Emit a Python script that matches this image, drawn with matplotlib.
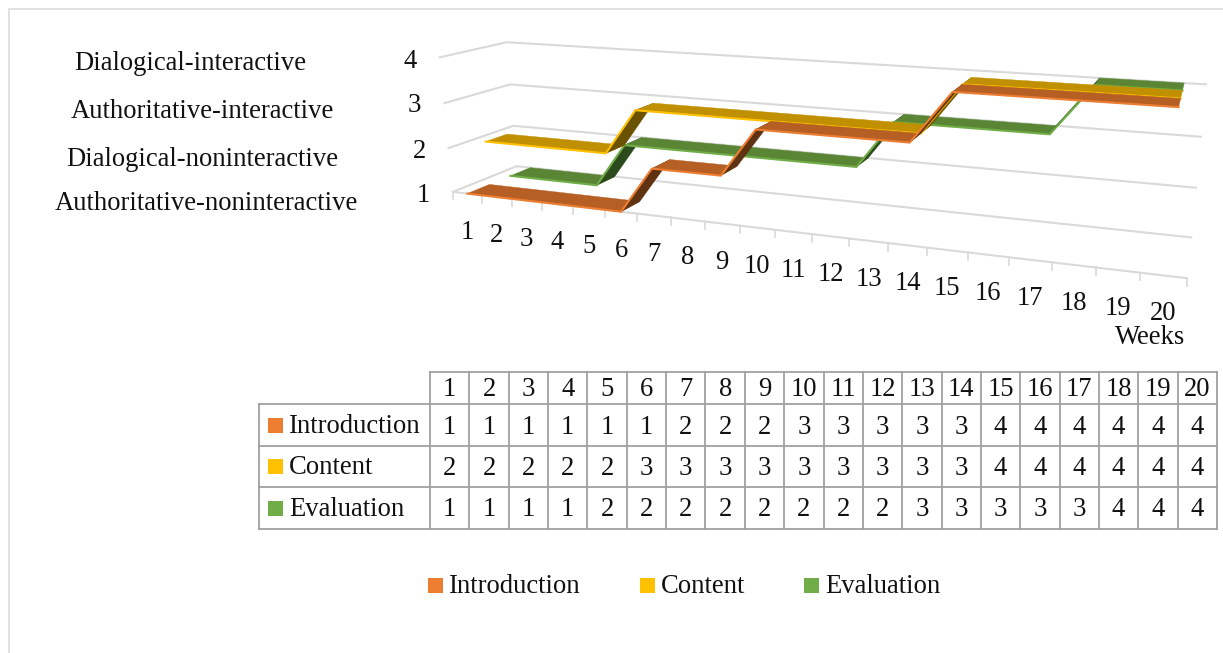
import numpy as np
import matplotlib
matplotlib.use("Agg")
import matplotlib.pyplot as plt
from matplotlib.patches import Polygon, Rectangle

# Data
weeks = list(range(1, 21))
series_names = ["Introduction", "Content", "Evaluation"]
introduction = [1, 1, 1, 1, 1, 1, 2, 2, 2, 3, 3, 3, 3, 3, 4, 4, 4, 4, 4, 4]
content = [2, 2, 2, 2, 2, 3, 3, 3, 3, 3, 3, 3, 3, 3, 4, 4, 4, 4, 4, 4]
evaluation = [1, 1, 1, 1, 2, 2, 2, 2, 2, 2, 2, 2, 3, 3, 3, 3, 3, 4, 4, 4]
series_values = [introduction, content, evaluation]
level_ticks = [1, 2, 3, 4]
level_names = ["Authoritative-noninteractive", "Dialogical-noninteractive",
               "Authoritative-interactive", "Dialogical-interactive"]

# Styling
base_colors = ["#ED7D31", "#FFC000", "#70AD47"]
top_colors = ["#B55F25", "#C09000", "#598535"]
riser_colors = ["#5F3212", "#6B5200", "#2C4B1C"]
depth_bands = [(0.0, 1 / 3), (1 / 3, 2 / 3), (2 / 3, 1.0)]
GRID = "#D9D9D9"
TABLE_LINE = "#A0A0A0"
FRAME = "#DCDCDC"
TEXT = "#111111"
FONT = "Liberation Serif"
FS = 19.2
DY = 2.0

W, H = 1223, 653
fig = plt.figure(figsize=(W / 100, H / 100), dpi=100, facecolor="white")
ax = fig.add_axes([0, 0, 1, 1])
ax.set_xlim(0, W)
ax.set_ylim(H, 0)
ax.axis("off")

# Perspective camera of the 3-D scene, fitted to anchor points:
# (category position, level, depth) -> canvas position.
tick_x = [453, 482, 512, 542, 573, 605, 637, 671, 705, 740, 775,
          812, 849, 888, 927, 968, 1009, 1052, 1096, 1140, 1187]
anchors = [((i, 1, 0), (x, 192 + (x - 453) * 86 / 734)) for i, x in enumerate(tick_x)]
anchors += [
    ((0, 2, 0), (448, 148)), ((0, 3, 0), (444, 103)), ((0, 4, 0), (440, 58)),
    ((0, 1, 1), (517, 166)), ((0, 2, 1), (513, 126)), ((0, 3, 1), (510, 84)), ((0, 4, 1), (507, 42)),
    ((20, 1, 1), (1191, 238)), ((20, 2, 1), (1196, 188)), ((20, 3, 1), (1201, 137)), ((20, 4, 1), (1206, 84)),
]
rows, rhs = [], []
for (a, b, c), (px, py) in anchors:
    rows.append([a, b, c, 1, 0, 0, 0, 0, -px * a, -px * b, -px * c])
    rows.append([0, 0, 0, 0, a, b, c, 1, -py * a, -py * b, -py * c])
    rhs += [px, py]
cam = np.append(np.linalg.lstsq(np.array(rows, float), np.array(rhs, float), rcond=None)[0], 1.0).reshape(3, 4)


def project(pos, level, depth):
    h = cam @ np.array([pos, level, depth, 1.0])
    return h[0] / h[2], h[1] / h[2]


def label(x, y, s, ha="center"):
    ax.text(x, y + DY, s, ha=ha, va="center", family=FONT, fontsize=FS, color=TEXT)


# Page frame
ax.plot([9, 9, W], [H, 9, 9], color=FRAME, lw=1.2, solid_joinstyle="miter")

# Floor and wall gridlines
for lv in level_ticks:
    pts = [project(0, lv, 0), project(0, lv, 1), project(20, lv, 1)]
    ax.plot(*zip(*pts), color=GRID, lw=1.5, zorder=1)
ax.plot(*zip(project(0, 1, 0), project(20, 1, 0)), color=GRID, lw=1.5, zorder=1)
for i in range(21):
    x0, y0 = project(i, 1, 0)
    ax.plot([x0, x0], [y0, y0 + 7.5], color=GRID, lw=1.2, zorder=1)

# Ribbons, back to front; flat runs are merged into one face
for idx in [2, 1, 0]:
    vals = series_values[idx]
    d0, d1 = depth_bands[idx]
    z = 3 + (2 - idx) * 3
    start = 0
    for j in range(1, len(vals) + 1):
        if j == len(vals) or vals[j] != vals[start]:
            a, b = weeks[start] - 0.5, weeks[j - 1] - 0.5
            lv = vals[start]
            quad = [project(a, lv, d0), project(b, lv, d0), project(b, lv, d1), project(a, lv, d1)]
            ax.add_patch(Polygon(quad, closed=True, facecolor=top_colors[idx],
                                 edgecolor=top_colors[idx], lw=0.3, zorder=z))
            if j < len(vals):
                c = weeks[j] - 0.5
                riser = [project(b, lv, d0), project(c, vals[j], d0),
                         project(c, vals[j], d1), project(b, lv, d1)]
                ax.add_patch(Polygon(riser, closed=True, facecolor=riser_colors[idx],
                                     edgecolor=riser_colors[idx], lw=0.3, zorder=z))
            start = j
    edge = [project(w - 0.5, v, d0) for w, v in zip(weeks, vals)]
    ax.plot(*zip(*edge), color=base_colors[idx], lw=1.5, zorder=z + 0.5, solid_joinstyle="miter")

# Category labels below the front axis
for w in weeks:
    x, y = project(w - 0.5, 1, 0)
    label(x, y + 36.5, str(w))
label(1150, 336, "Weeks")

# Level numbers and their descriptive names
num_pos = [(423, 193), (419, 149), (414, 104), (410, 59)]
name_pos = [(206, 201), (202, 158), (202, 109), (190, 61)]
for lv, np_, name, nm_ in zip(level_ticks, num_pos, level_names, name_pos):
    label(np_[0], np_[1], str(lv))
    label(nm_[0], nm_[1], name)

# Data table
col_x = np.linspace(430, 1217, 21)
row_y = [372, 404, 446, 487, 529]
tl = dict(color=TABLE_LINE, lw=1.3, zorder=2, solid_capstyle="projecting")
ax.plot([430, 1217], [row_y[0]] * 2, **tl)
for y in row_y[1:]:
    ax.plot([259, 1217], [y, y], **tl)
for x in col_x:
    ax.plot([x, x], [row_y[0], row_y[-1]], **tl)
ax.plot([259, 259], [row_y[1], row_y[-1]], **tl)
for j, w in enumerate(weeks):
    xc = (col_x[j] + col_x[j + 1]) / 2
    label(xc, (row_y[0] + row_y[1]) / 2, str(w))
    for r, vals in enumerate(series_values):
        label(xc, (row_y[r + 1] + row_y[r + 2]) / 2, str(vals[j]))
for r, name in enumerate(series_names):
    yc = (row_y[r + 1] + row_y[r + 2]) / 2
    ax.add_patch(Rectangle((268, yc - 7.5), 15, 15, facecolor=base_colors[r], edgecolor="none", zorder=3))
    label(289, yc - 0.5, name, ha="left")

# Legend
legend_x = [428, 640, 804]
for x, name, col in zip(legend_x, series_names, base_colors):
    ax.add_patch(Rectangle((x, 578), 15, 15, facecolor=col, edgecolor="none", zorder=3))
    label(x + 21, 584.5, name, ha="left")

fig.savefig("out.png", dpi=100, facecolor="white")
